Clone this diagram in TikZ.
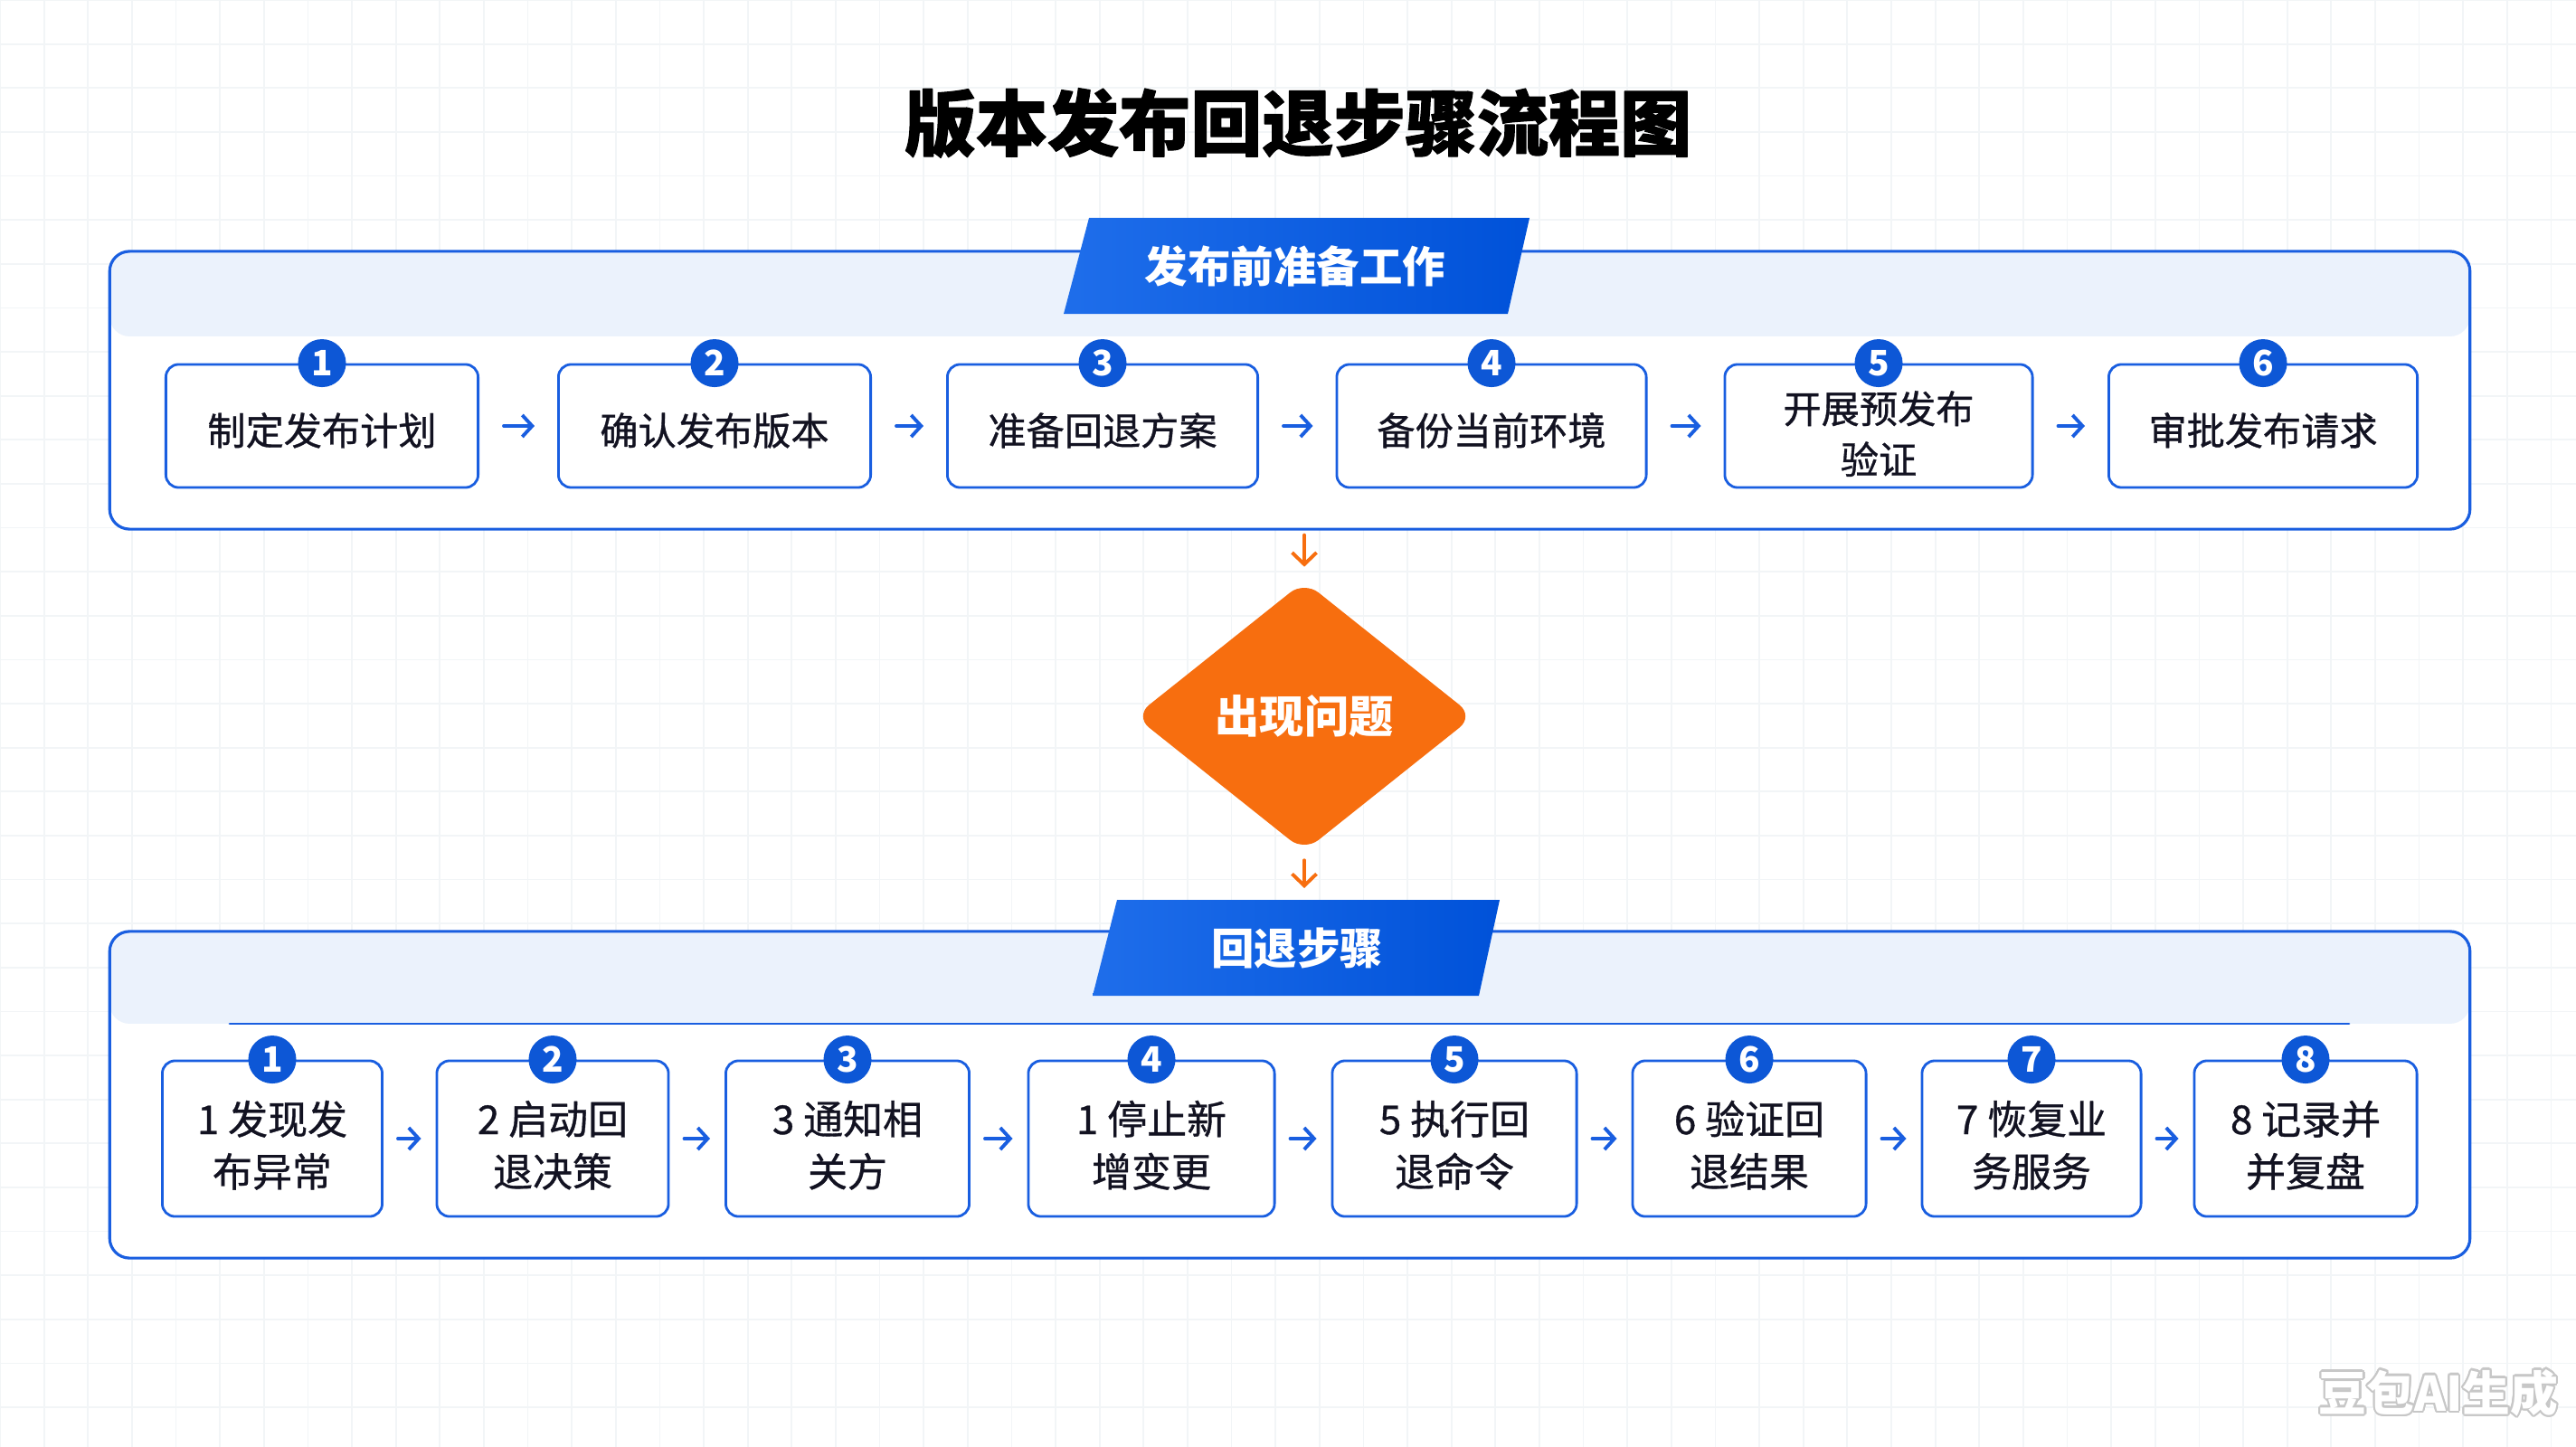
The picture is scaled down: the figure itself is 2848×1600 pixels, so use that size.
\documentclass[tikz,border=0pt]{standalone}
\usepackage{fontspec}
\setmainfont{Noto Sans CJK SC}
\newfontfamily\boxfont{Noto Sans CJK SC}[FakeBold=0.8]
\newfontfamily\headfont{Noto Sans CJK SC}[BoldFeatures={FakeBold=1.5}]
\usepackage[copies]{contour}
\usepackage{tikz}
\usetikzlibrary{arrows.meta,shapes.geometric}
\definecolor{lineblue}{rgb}{0.10,0.37,0.88}
\definecolor{dotblue}{rgb}{0.05,0.34,0.84}
\definecolor{tabblueL}{rgb}{0.12,0.43,0.92}
\definecolor{tabblueR}{rgb}{0.0,0.32,0.85}
\definecolor{bandblue}{rgb}{0.92,0.95,0.99}
\definecolor{issueorange}{rgb}{0.97,0.43,0.06}
\definecolor{textdark}{rgb}{0.07,0.07,0.13}
\definecolor{gridgray}{rgb}{0.95,0.96,0.97}

\begin{document}
\begin{tikzpicture}[line cap=round,line join=round,x=0.01cm,y=-0.01cm,
panel/.style={draw=lineblue,line width=0.9pt,fill=white,rounded corners=0.22cm,inner sep=0pt},
taskbox/.style={draw=lineblue,line width=0.8pt,fill=white,rounded corners=0.14cm,inner sep=0pt,align=center,text=textdark,text height=0.89cm,text depth=0.47cm,font=\boxfont\fontsize{12}{16}\selectfont},
rollbox/.style={taskbox,text height=1.39cm,text depth=0.33cm,font=\boxfont\fontsize{12.5}{16.5}\selectfont},
numdot/.style={circle,fill=dotblue,text=white,minimum size=0.53cm,inner sep=0pt,font=\fontsize{11}{12}\selectfont\bfseries},
tabtext/.style={text=white,font=\fontsize{13.5}{16}\selectfont\bfseries},
blueflow/.style={draw=lineblue,line width=1.1pt,-{Straight Barb[length=0.11cm,width=0.24cm]}},
orangeflow/.style={draw=issueorange,line width=1.1pt,-{Straight Barb[length=0.13cm,width=0.27cm]}}]
\useasboundingbox (0,0) rectangle (2848,1600);
\fill[white] (0,0) rectangle (2848,1600);
\draw[gridgray,line width=0.5pt,step=0.486cm] (0,0) grid (2848,1600);

\node[font=\headfont\fontsize{22.5}{26}\selectfont\bfseries] (title) at (1435,136) {版本发布回退步骤流程图};

\node[panel,minimum width=26.08cm,minimum height=3.07cm,path picture={\fill[bandblue] (path picture bounding box.north west) rectangle ([yshift=-0.94cm]path picture bounding box.north east);}] (prep) at (1426,431.5) {};
\shade[left color=tabblueL,right color=tabblueR] (1204,241) -- (1691,241) -- (1667,347) -- (1176,347) -- cycle;
\node[tabtext] (preptab) at (1432,294) {发布前准备工作};

\node[taskbox,minimum width=3.45cm] (t1) at (356,471) {制定发布计划};
\node[taskbox,minimum width=3.45cm] (t2) at (790,471) {确认发布版本};
\node[taskbox,minimum width=3.43cm] (t3) at (1219,471) {准备回退方案};
\node[taskbox,minimum width=3.42cm] (t4) at (1649,471) {备份当前环境};
\node[taskbox,minimum width=3.40cm,text height=1.21cm,text depth=0.15cm] (t5) at (2077,471) {开展预发布\\验证};
\node[taskbox,minimum width=3.41cm] (t6) at (2502,471) {审批发布请求};
\node[numdot] (n1) at (t1.north) {1};
\node[numdot] (n2) at (t2.north) {2};
\node[numdot] (n3) at (t3.north) {3};
\node[numdot] (n4) at (t4.north) {4};
\node[numdot] (n5) at (t5.north) {5};
\node[numdot] (n6) at (t6.north) {6};
\draw[blueflow,shorten <=0.27cm,shorten >=0.25cm] (t1) -- (t2);
\draw[blueflow,shorten <=0.27cm,shorten >=0.25cm] (t2) -- (t3);
\draw[blueflow,shorten <=0.27cm,shorten >=0.25cm] (t3) -- (t4);
\draw[blueflow,shorten <=0.27cm,shorten >=0.25cm] (t4) -- (t5);
\draw[blueflow,shorten <=0.27cm,shorten >=0.25cm] (t5) -- (t6);

\node[diamond,fill=issueorange,minimum width=3.75cm,minimum height=2.99cm,rounded corners=0.2cm,inner sep=0pt,text=white,font=\fontsize{14}{16}\selectfont\bfseries] (issue) at (1442,792) {出现问题};
\draw[orangeflow,shorten <=0.05cm,shorten >=0.15cm] (prep.south -| issue.north) -- (issue.north);
\coordinate (rolltop) at (1442,995);
\draw[orangeflow,shorten <=0.09cm,shorten >=0.13cm] (issue.south) -- (rolltop);

\node[panel,minimum width=26.08cm,minimum height=3.61cm,path picture={\fill[bandblue] (path picture bounding box.north west) rectangle ([yshift=-1.02cm]path picture bounding box.north east);}] (roll) at (1426,1210.5) {};
\draw[lineblue,line width=0.8pt] (254,1132) -- (2597,1132);
\shade[left color=tabblueL,right color=tabblueR] (1235,995) -- (1658,995) -- (1635,1101) -- (1208,1101) -- cycle;
\node[tabtext] (rolltab) at (1434,1049) {回退步骤};

\node[rollbox,minimum width=2.43cm] (b1) at (301,1259) {1 发现发\\布异常};
\node[rollbox,minimum width=2.56cm] (b2) at (611,1259) {2 启动回\\退决策};
\node[rollbox,minimum width=2.69cm] (b3) at (937,1259) {3 通知相\\关方};
\node[rollbox,minimum width=2.72cm] (b4) at (1273,1259) {1 停止新\\增变更};
\node[rollbox,minimum width=2.70cm] (b5) at (1608,1259) {5 执行回\\退命令};
\node[rollbox,minimum width=2.58cm] (b6) at (1934,1259) {6 验证回\\退结果};
\node[rollbox,minimum width=2.42cm] (b7) at (2246,1259) {7 恢复业\\务服务};
\node[rollbox,minimum width=2.46cm] (b8) at (2549,1259) {8 记录并\\并复盘};
\node[numdot] (m1) at (b1.north) {1};
\node[numdot] (m2) at (b2.north) {2};
\node[numdot] (m3) at (b3.north) {3};
\node[numdot] (m4) at (b4.north) {4};
\node[numdot] (m5) at (b5.north) {5};
\node[numdot] (m6) at (b6.north) {6};
\node[numdot] (m7) at (b7.north) {7};
\node[numdot] (m8) at (b8.north) {8};
\draw[blueflow,shorten <=0.16cm,shorten >=0.16cm] (b1) -- (b2);
\draw[blueflow,shorten <=0.16cm,shorten >=0.16cm] (b2) -- (b3);
\draw[blueflow,shorten <=0.16cm,shorten >=0.16cm] (b3) -- (b4);
\draw[blueflow,shorten <=0.16cm,shorten >=0.16cm] (b4) -- (b5);
\draw[blueflow,shorten <=0.16cm,shorten >=0.16cm] (b5) -- (b6);
\draw[blueflow,shorten <=0.16cm,shorten >=0.16cm] (b6) -- (b7);
\draw[blueflow,shorten <=0.16cm,shorten >=0.16cm] (b7) -- (b8);

\node[text=white,font=\fontsize{15}{18}\selectfont\bfseries] (mark) at (2696,1541) {\contourlength{0.6pt}\contour{black!22}{豆包AI生成}};
\end{tikzpicture}
\end{document}
